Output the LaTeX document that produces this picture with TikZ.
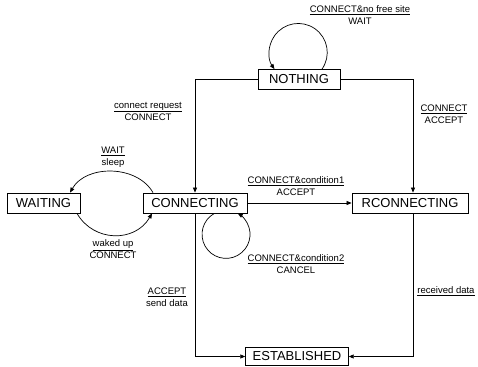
\documentclass[tikz,border=0pt]{standalone}
\usepackage{fontspec}
\setmainfont{Liberation Sans}
\usetikzlibrary{arrows.meta}

\begin{document}
\begin{tikzpicture}[x=1pt,y=1pt,
  stato/.style={draw,line width=0.8pt,font=\fontsize{13}{15}\selectfont,
    inner xsep=7pt,inner ysep=0pt,minimum height=20pt},
  etichetta/.style={font=\fontsize{9.5}{12}\selectfont,align=center,inner sep=0pt},
  freccia/.style={line width=0.7pt,-{Triangle[length=5pt,width=4pt]}}]
  \useasboundingbox (0,0) rectangle (478,366);
  % Stati dell'automa.
  \node[stato,minimum width=82pt] (nulla) at (299,286.5) {NOTHING};
  \node[stato,minimum width=73pt] (attesa) at (43.5,163) {WAITING};
  \node[stato,minimum width=104pt] (connessione) at (195,163) {CONNECTING};
  \node[stato,minimum width=116pt] (rconnessione) at (410,163) {RCONNECTING};
  \node[stato,minimum width=102pt,minimum height=18pt] (stabilito) at (297,9.5) {ESTABLISHED};
  % Transizioni tra gli stati.
  \draw[freccia] (nulla.west) -| (connessione.north);
  \draw[freccia] (nulla.east) -| ([xshift=3pt]rconnessione.north);
  \draw[freccia] (connessione.east) -- (rconnessione.west);
  \draw[freccia] (connessione.south) |- (stabilito.west);
  \draw[freccia] ([xshift=3pt]rconnessione.south) |- (stabilito.east);
  \draw[freccia] ([xshift=-42pt]connessione.north) to[out=120,in=60] ([xshift=26.5pt]attesa.north);
  \draw[freccia] ([xshift=33.5pt]attesa.south) to[out=-60,in=-120,looseness=1.15] ([xshift=-43pt]connessione.south);
  % Anelli sugli stati.
  \draw[freccia] ([xshift=23pt]nulla.north) arc[start angle=-35,end angle=215,radius=29pt];
  \draw[freccia] ([xshift=19.4pt]connessione.south) arc[start angle=119,end angle=421,radius=24pt];
  % Etichette: evento sopra la riga, azione sotto.
  \foreach \nome/\x/\y/\sopra/\sotto in {
    eNulla/360/350.5/{CONNECT\&no free site}/WAIT,
    eRichiesta/148/255/{connect request}/CONNECT,
    eAccetta/444/251.5/CONNECT/ACCEPT,
    eAttesa/113/208.5/WAIT/sleep,
    eCondUno/296/180/{CONNECT\&condition1}/ACCEPT,
    eRisveglio/113/117/{waked up}/CONNECT,
    eCondDue/296/102/{CONNECT\&condition2}/CANCEL,
    eInvio/167/69/ACCEPT/{send data}}{
    \node[etichetta] (\nome) at (\x,\y) {\underline{\sopra}\\\sotto};
  }
  \node[etichetta] (eRicevuto) at (446,75) {\underline{received data}};
\end{tikzpicture}
\end{document}
